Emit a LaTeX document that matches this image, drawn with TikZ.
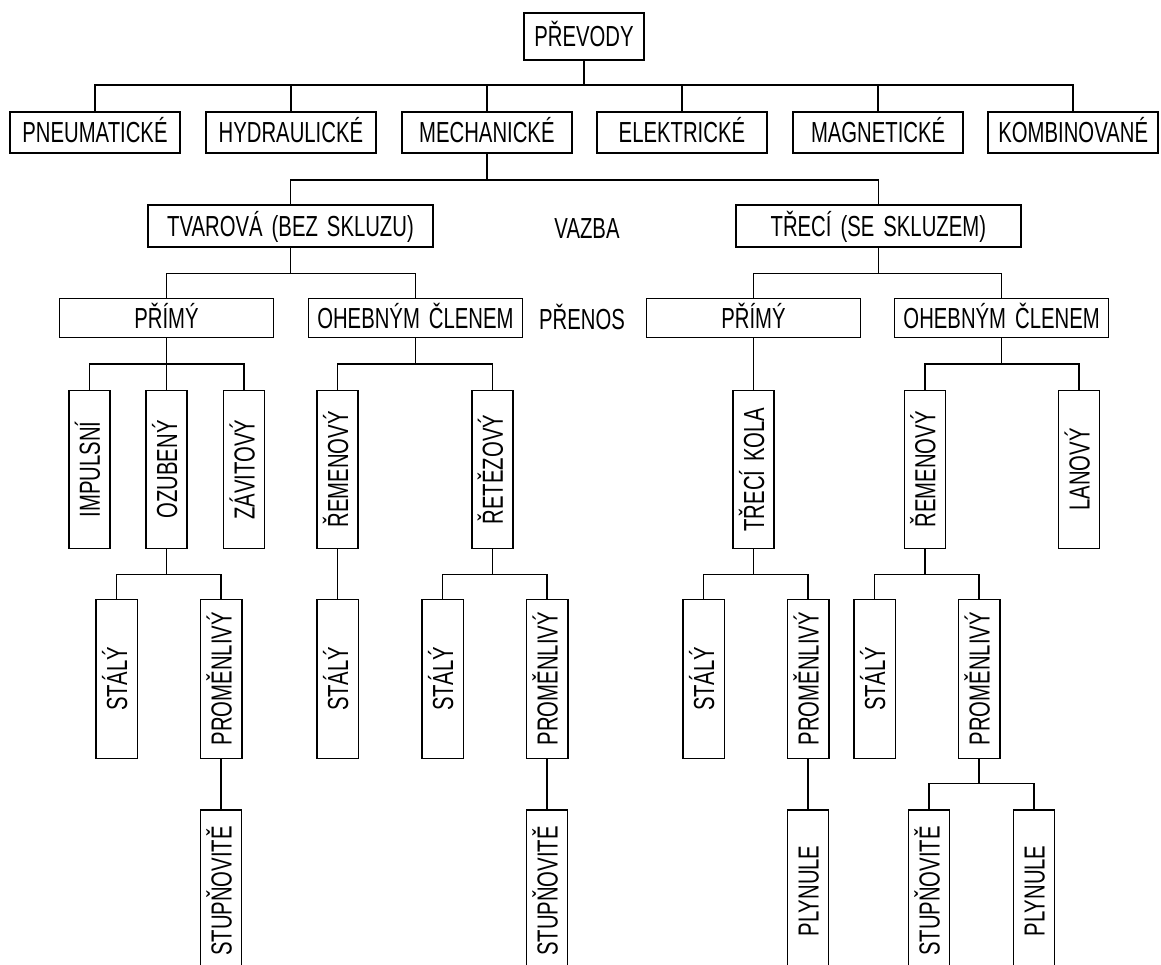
\documentclass[tikz,border=0pt]{standalone}
\usepackage{fontspec}
\setmainfont[FakeStretch=0.7,WordSpace=1.6]{Liberation Sans}
\begin{document}
\begin{tikzpicture}[x=1pt,y=-1pt,
  txt/.style={font=\fontsize{29}{32}\selectfont, inner sep=0pt, text height=21pt, text depth=0pt},
  box/.style={txt, draw, line width=1.5pt},
  r0/.style={box, minimum width=120pt, minimum height=47pt},
  r1/.style={box, minimum width=170pt, minimum height=41pt},
  r2/.style={box, minimum width=285pt, minimum height=42pt},
  r3/.style={box, minimum width=214pt, minimum height=39pt},
  v4/.style={box, rotate=90, minimum width=157.6pt, minimum height=41pt},
  v5/.style={box, rotate=90, minimum width=159pt, minimum height=41.5pt},
  v6/.style={box, rotate=90, minimum width=162pt, minimum height=41pt},
  conn/.style={line width=1.5pt}]
\useasboundingbox (0,0) rectangle (1161,965);
\clip (0,0) rectangle (1161,965);
\fill[white] (0,0) rectangle (1161,965);

% row 0
\node[r0] (prevody) at (584,36.5) {PŘEVODY};
% row 1
\node[r1] (pneu) at (95,132.5) {PNEUMATICKÉ};
\node[r1] (hydr) at (290.9,132.5) {HYDRAULICKÉ};
\node[r1] (mech) at (486.9,132.5) {MECHANICKÉ};
\node[r1] (elek) at (681.9,132.5) {ELEKTRICKÉ};
\node[r1] (magn) at (878.1,132.5) {MAGNETICKÉ};
\node[r1] (komb) at (1073.2,132.5) {KOMBINOVANÉ};
% row 2
\node[r2] (tvar) at (290.5,226) {TVAROVÁ (BEZ SKLUZU)};
\node[txt] (vazba) at (587,228) {VAZBA};
\node[r2] (trec) at (878.3,226) {TŘECÍ (SE SKLUZEM)};
% row 3
\node[r3] (primL) at (166.5,317.8) {PŘÍMÝ};
\node[r3] (ohebL) at (415.4,317.8) {OHEBNÝM ČLENEM};
\node[txt] (prenos) at (582,319) {PŘENOS};
\node[r3] (primR) at (753.5,317.8) {PŘÍMÝ};
\node[r3] (ohebR) at (1001.6,317.8) {OHEBNÝM ČLENEM};
% row 4
\node[v4] (impuls) at (89.4,469.5) {IMPULSNÍ};
\node[v4] (ozub) at (166.5,469.5) {OZUBENÝ};
\node[v4] (zavit) at (244,469.5) {ZÁVITOVÝ};
\node[v4] (remL) at (337.7,469.5) {ŘEMENOVÝ};
\node[v4] (retez) at (492.3,469.5) {ŘETĚZOVÝ};
\node[v4] (trkola) at (753.5,469.5) {TŘECÍ KOLA};
\node[v4] (remR) at (924.8,469.5) {ŘEMENOVÝ};
\node[v4] (lan) at (1079.1,469.5) {LANOVÝ};
% row 5
\node[v5] (st1) at (116.7,678.8) {STÁLÝ};
\node[v5] (pr1) at (221,678.8) {PROMĚNLIVÝ};
\node[v5] (st2) at (337.7,678.8) {STÁLÝ};
\node[v5] (st3) at (442.7,678.8) {STÁLÝ};
\node[v5] (pr2) at (547,678.8) {PROMĚNLIVÝ};
\node[v5] (st4) at (703.5,678.8) {STÁLÝ};
\node[v5] (pr3) at (808,678.8) {PROMĚNLIVÝ};
\node[v5] (st5) at (874.5,678.8) {STÁLÝ};
\node[v5] (pr4) at (979,678.8) {PROMĚNLIVÝ};
% row 6
\node[v6] (su1) at (221,891) {STUPŇOVITĚ};
\node[v6] (su2) at (547,891) {STUPŇOVITĚ};
\node[v6] (pl1) at (808,891) {PLYNULE};
\node[v6] (su3) at (929,891) {STUPŇOVITĚ};
\node[v6] (pl2) at (1034,891) {PLYNULE};

% bus coordinates
\coordinate (b0) at (584,85);
\coordinate (b1) at (486.9,180);
\coordinate (b2L) at (290.5,273.3);
\coordinate (b2R) at (878.3,273.3);
\coordinate (b3a) at (166.5,364);
\coordinate (b3b) at (415.4,364);
\coordinate (b3d) at (1001.6,364);
\coordinate (b4a) at (166.5,574.3);
\coordinate (b4b) at (492.3,574.3);
\coordinate (b4c) at (753.5,574.3);
\coordinate (b4d) at (924.8,574.3);
\coordinate (b5) at (979,783.3);

% connectors
\foreach \c in {pneu,hydr,mech,elek,magn,komb}
  \draw[conn] (prevody.south) -- (b0) -| (\c.north);
\foreach \c in {tvar,trec}
  \draw[conn] (mech.south) -- (b1) -| (\c.north);
\foreach \c in {primL,ohebL}
  \draw[conn] (tvar.south) -- (b2L) -| (\c.north);
\foreach \c in {primR,ohebR}
  \draw[conn] (trec.south) -- (b2R) -| (\c.north);
\foreach \c in {impuls,ozub,zavit}
  \draw[conn] (primL.south) -- (b3a) -| (\c.east);
\foreach \c in {remL,retez}
  \draw[conn] (ohebL.south) -- (b3b) -| (\c.east);
\draw[conn] (primR.south) -- (trkola.east);
\foreach \c in {remR,lan}
  \draw[conn] (ohebR.south) -- (b3d) -| (\c.east);
\foreach \c in {st1,pr1}
  \draw[conn] (ozub.west) -- (b4a) -| (\c.east);
\draw[conn] (remL.west) -- (st2.east);
\foreach \c in {st3,pr2}
  \draw[conn] (retez.west) -- (b4b) -| (\c.east);
\foreach \c in {st4,pr3}
  \draw[conn] (trkola.west) -- (b4c) -| (\c.east);
\foreach \c in {st5,pr4}
  \draw[conn] (remR.west) -- (b4d) -| (\c.east);
\draw[conn] (pr1.west) -- (su1.east);
\draw[conn] (pr2.west) -- (su2.east);
\draw[conn] (pr3.west) -- (pl1.east);
\foreach \c in {su3,pl2}
  \draw[conn] (pr4.west) -- (b5) -| (\c.east);
\end{tikzpicture}
\end{document}
